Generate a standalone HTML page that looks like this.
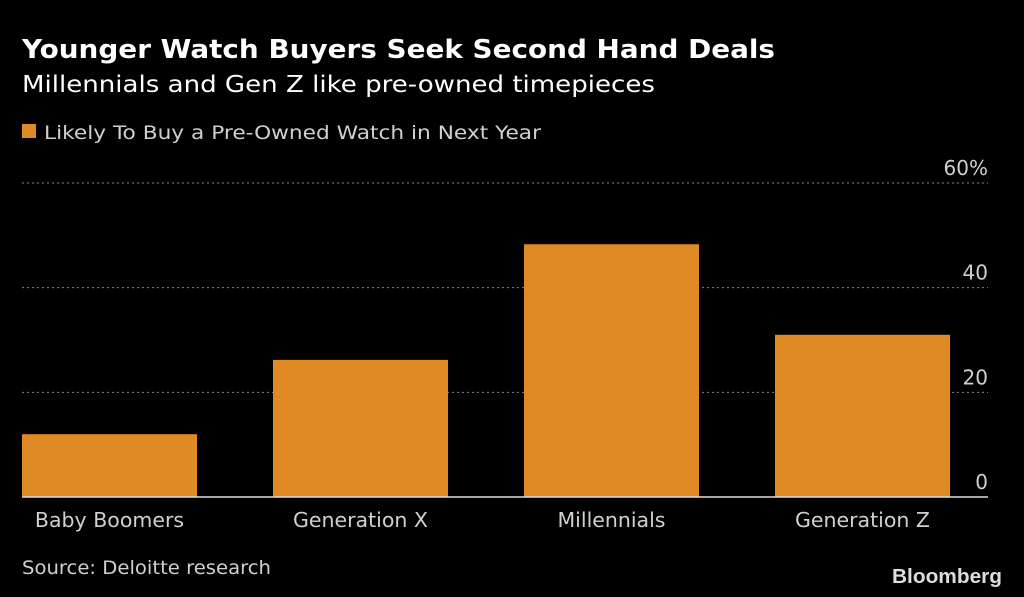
<!DOCTYPE html>
<html><head><meta charset="utf-8"><style>
body{margin:0;background:#000;width:1024px;height:597px;overflow:hidden;font-family:"DejaVu Sans","Liberation Sans",sans-serif;color:#fff}
</style></head><body>
<svg width="1024" height="597" style="position:absolute;left:0;top:0" font-family="DejaVu Sans, Liberation Sans, sans-serif">
<text x="22" y="58" font-size="26" font-weight="bold" fill="#fff" textLength="753" lengthAdjust="spacingAndGlyphs">Younger Watch Buyers Seek Second Hand Deals</text>
<text x="22" y="92" font-size="23" fill="#fff" textLength="633" lengthAdjust="spacingAndGlyphs">Millennials and Gen Z like pre-owned timepieces</text>
<rect x="22" y="124" width="14" height="14" fill="#E08A26"/>
<text x="44" y="139" font-size="19" fill="#d0d0d0" textLength="497" lengthAdjust="spacingAndGlyphs">Likely To Buy a Pre-Owned Watch in Next Year</text>
<g id="grid"></g>
<g id="bars"></g>
<g id="xlabels"></g>
<line x1="22" x2="988" y1="497" y2="497" stroke="#ddd" stroke-width="1.5"/>
<text x="22" y="574" font-size="19" fill="#d0d0d0" textLength="249" lengthAdjust="spacingAndGlyphs">Source: Deloitte research</text>
<text x="1002" y="583" font-size="20" font-weight="bold" fill="#ddd" text-anchor="end" font-family="Liberation Sans, sans-serif" textLength="110" lengthAdjust="spacingAndGlyphs">Bloomberg</text>
</svg>
<script>
const categories=["Baby Boomers","Generation X","Millennials","Generation Z"];
const values=[12,26.2,48.3,31];
const ticks=[0,20,40,60];
const tickLabels=["0","20","40","60%"];
const ns="http://www.w3.org/2000/svg";
const y0=497,y60=183,left=22,right=988;
function y(v){return y0-(v/60)*(y0-y60);}
function bx(i){return 22+i*251;}
const bw=175;
const g=document.getElementById('grid');
ticks.forEach((t,i)=>{
 if(t>0){const l=document.createElementNS(ns,'line');
 l.setAttribute('x1',left);l.setAttribute('x2',right);l.setAttribute('y1',y(t));l.setAttribute('y2',y(t));
 l.setAttribute('stroke','#888');l.setAttribute('stroke-dasharray','2,3');
 
 
 g.appendChild(l);}
 const tx=document.createElementNS(ns,'text');
 tx.setAttribute('x',988);tx.setAttribute('y',y(t)-8);tx.setAttribute('text-anchor','end');
 tx.setAttribute('font-size','20');tx.setAttribute('fill','#d0d0d0');tx.textContent=tickLabels[i];
 
 
 g.appendChild(tx);
});
const b=document.getElementById('bars'),xl=document.getElementById('xlabels');
categories.forEach((c,i)=>{
 const r=document.createElementNS(ns,'rect');
 r.setAttribute('x',bx(i));r.setAttribute('width',bw);r.setAttribute('y',y(values[i]));r.setAttribute('height',y0-y(values[i]));
 r.setAttribute('fill','#E08A26');
 
 
 b.appendChild(r);
 const t=document.createElementNS(ns,'text');
 t.setAttribute('x',bx(i)+bw/2);t.setAttribute('y',527);t.setAttribute('text-anchor','middle');
 t.setAttribute('font-size','20.5');t.setAttribute('fill','#d0d0d0');t.textContent=c;
 
 
 xl.appendChild(t);
});
</script>
</body></html>
